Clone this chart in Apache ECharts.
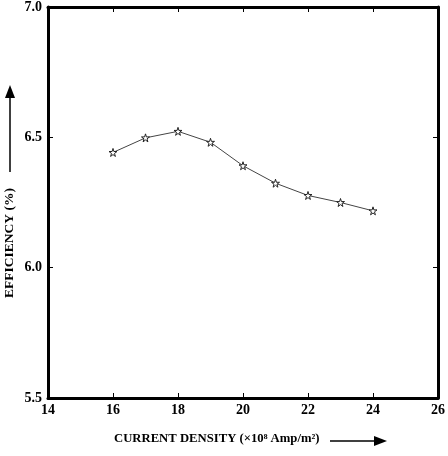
<!DOCTYPE html>
<html>
<head>
<meta charset="utf-8">
<script src="https://cdn.jsdelivr.net/npm/echarts@6/dist/echarts.min.js"></script>
<style>
html, body { margin: 0; padding: 0; background: #fff; }
#chart { width: 448px; height: 456px; }
</style>
</head>
<body>
<div id="chart"></div>
<script>
// current density (x10^8 Amp/m^2) vs efficiency (%)
const currentDensity = [16, 17, 18, 19, 20, 21, 22, 23, 24];
const efficiency = [6.442, 6.498, 6.523, 6.481, 6.391, 6.324, 6.277, 6.250, 6.218];
const xTicks = [14, 26, 2];
const yTicks = [5.5, 7.0, 0.5];

const serif = '"Liberation Serif", "DejaVu Serif", serif';
const starPath = 'path://M50,0 L61,35 L98,35 L68,57 L79,91 L50,70 L21,91 L32,57 L2,35 L39,35 Z';

let chart = echarts.init(document.getElementById('chart'));

let frameAxis = {
    axisLine: {show: true, onZero: false, lineStyle: {color: '#000', width: 3}},
    axisTick: {show: true, inside: true, length: 5, lineStyle: {color: '#000', width: 1}},
    splitLine: {show: false}
};

let option = {
    animation: false,
    grid: {left: 48, right: 10, top: 6, bottom: 58},
    xAxis: [
        Object.assign({
            type: 'value', min: xTicks[0], max: xTicks[1], interval: xTicks[2],
            axisLabel: {color: '#000', fontFamily: serif, fontWeight: 'bold', fontSize: 14, margin: 5}
        }, frameAxis),
        Object.assign({
            type: 'value', position: 'top', min: xTicks[0], max: xTicks[1], interval: xTicks[2],
            axisLabel: {show: false}
        }, frameAxis)
    ],
    yAxis: [
        Object.assign({
            type: 'value', min: yTicks[0], max: yTicks[1], interval: yTicks[2],
            axisLabel: {
                color: '#000', fontFamily: serif, fontWeight: 'bold', fontSize: 14, margin: 6,
                formatter: function (v) { return v.toFixed(1); }
            }
        }, frameAxis),
        Object.assign({
            type: 'value', position: 'right', min: yTicks[0], max: yTicks[1], interval: yTicks[2],
            axisLabel: {show: false}
        }, frameAxis)
    ],
    series: [{
        type: 'line',
        data: currentDensity.map(function (x, i) { return [x, efficiency[i]]; }),
        symbol: starPath,
        symbolSize: 8,
        lineStyle: {color: '#444', width: 1},
        itemStyle: {color: '#fff', borderColor: '#222', borderWidth: 1}
    }],
    graphic: [
        {
            type: 'text', left: 114, top: 432,
            style: {
                text: 'CURRENT DENSITY (×10⁸ Amp/m²)',
                fill: '#000', font: 'bold 12.7px ' + serif
            }
        },
        {type: 'line', shape: {x1: 330, y1: 441, x2: 376, y2: 441}, style: {stroke: '#000', lineWidth: 1.5}},
        {type: 'polygon', shape: {points: [[374, 436], [387, 441], [374, 446]]}, style: {fill: '#000'}},
        {
            type: 'text', x: 3, y: 298, rotation: Math.PI / 2,
            style: {
                text: 'EFFICIENCY (%)',
                fill: '#000', font: 'bold 13.5px ' + serif
            }
        },
        {type: 'line', shape: {x1: 10, y1: 172, x2: 10, y2: 96}, style: {stroke: '#000', lineWidth: 1.5}},
        {type: 'polygon', shape: {points: [[5, 98], [10, 85], [15, 98]]}, style: {fill: '#000'}}
    ]
};

chart.setOption(option);
</script>
</body>
</html>
